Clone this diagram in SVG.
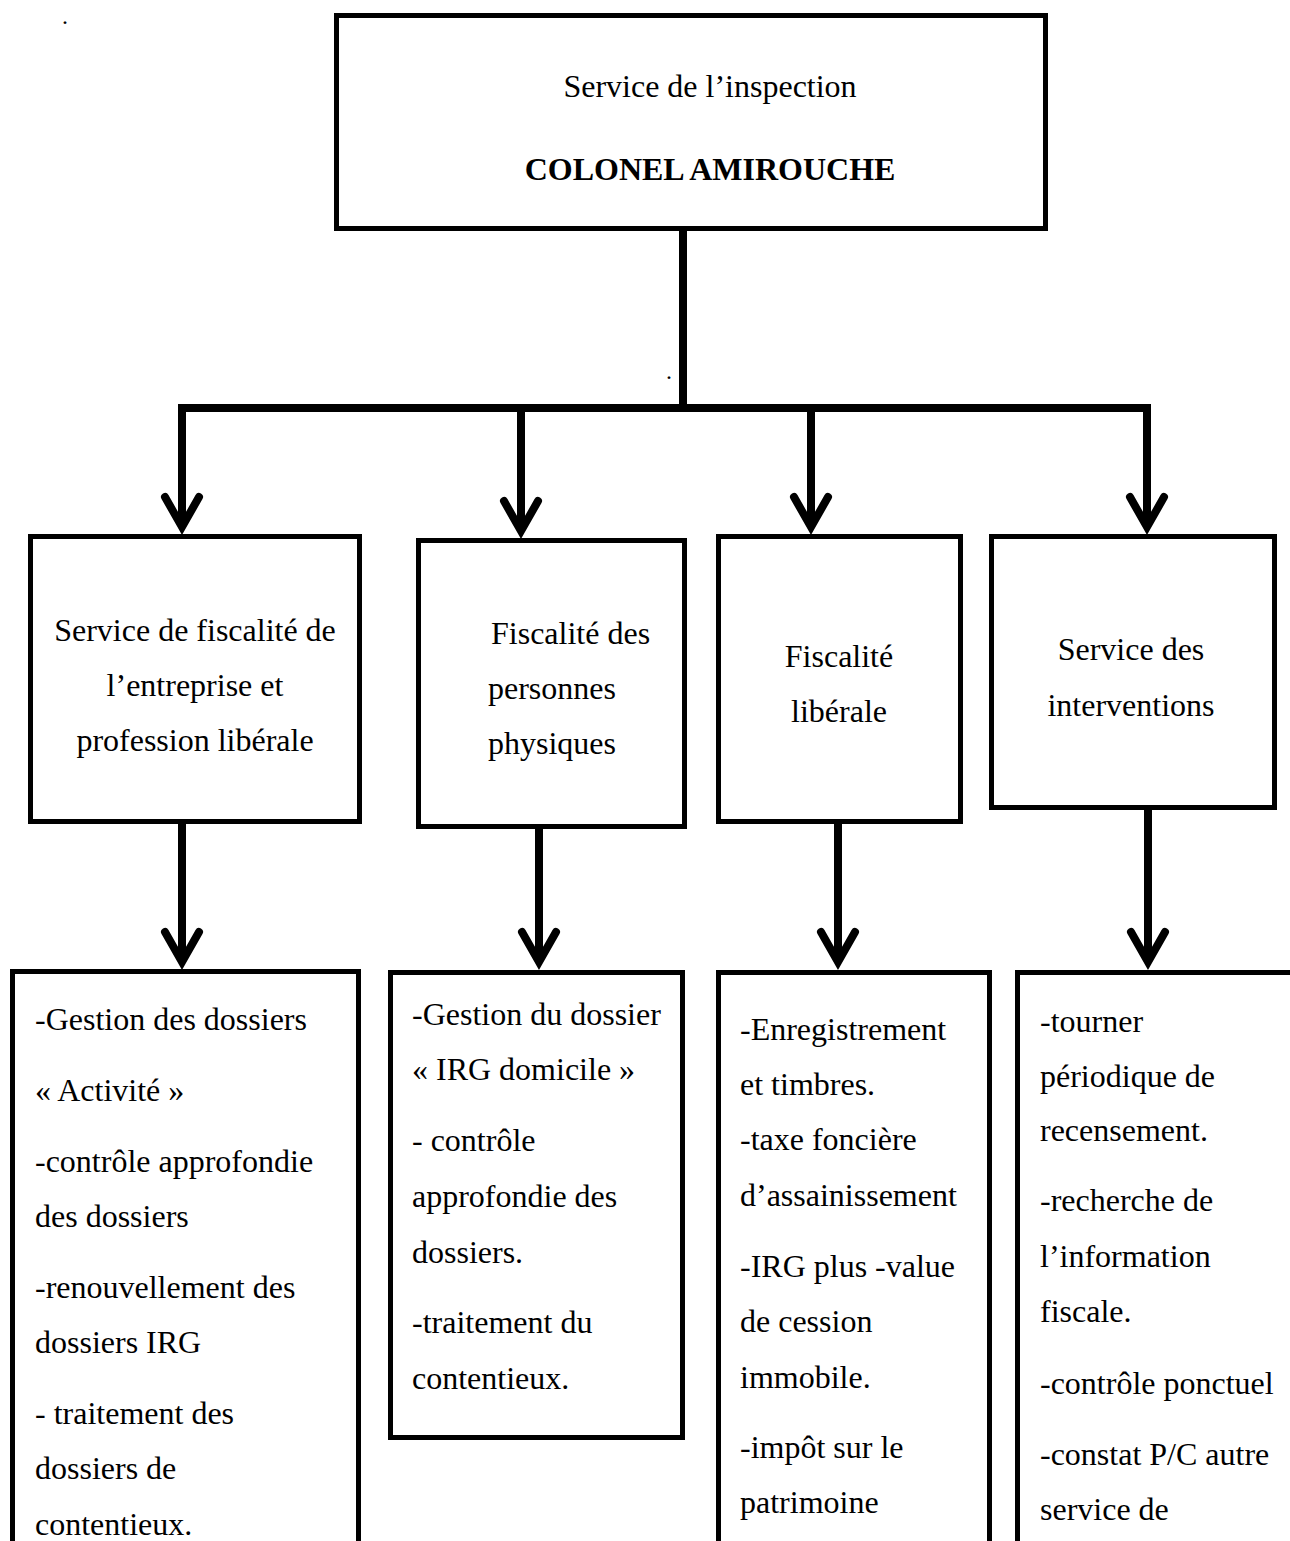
<svg xmlns="http://www.w3.org/2000/svg" width="1290" height="1541" viewBox="0 0 1290 1541">
<defs>
<style>
.box{fill:#fff;stroke:#000;stroke-width:5}
.con{fill:none;stroke:#000;stroke-width:8}
.arr{fill:none;stroke:#000;stroke-width:8;marker-end:url(#chev)}
text{font-family:"Liberation Serif","Times New Roman",serif;font-size:32px;fill:#000}
.c{text-anchor:middle}
.b{font-weight:bold}
.dot{font-size:24px}
</style>
<marker id="chev" viewBox="-36 -22 48 44" refX="0" refY="0" markerWidth="48" markerHeight="44" markerUnits="userSpaceOnUse" orient="auto">
<path d="M-30 -17 L0 0 L-30 17" fill="none" stroke="#000" stroke-width="8" stroke-linecap="round" stroke-linejoin="miter" stroke-miterlimit="10"/>
</marker>
</defs>
<rect width="1290" height="1541" fill="#fff"/>
<text class="dot" x="62" y="24">.</text>
<text class="dot" x="666" y="379">.</text>

<g id="connectors">
<path class="con" d="M683 231 V408"/>
<path class="con" d="M178 408 H1151"/>
<path class="arr" d="M182 404 V527"/>
<path class="arr" d="M521 404 V531"/>
<path class="arr" d="M811 404 V527"/>
<path class="arr" d="M1147 404 V527"/>
<path class="arr" d="M182 824 V962"/>
<path class="arr" d="M539 829 V962"/>
<path class="arr" d="M838 824 V962"/>
<path class="arr" d="M1148 810 V962"/>
</g>

<g id="top">
<rect class="box" x="336.5" y="15.5" width="709" height="213"/>
<text class="c" x="710" y="97">Service de l’inspection</text>
<text class="c b" x="710" y="180">COLONEL AMIROUCHE</text>
</g>

<g id="m1">
<rect class="box" x="30.5" y="536.5" width="329" height="285"/>
<text class="c" x="195" y="641">Service de fiscalité de</text>
<text class="c" x="195" y="696">l’entreprise et</text>
<text class="c" x="195" y="751">profession libérale</text>
</g>

<g id="m2">
<rect class="box" x="418.5" y="540.5" width="266" height="286"/>
<text x="491" y="644">Fiscalité des</text>
<text x="488" y="699">personnes</text>
<text x="488" y="754">physiques</text>
</g>

<g id="m3">
<rect class="box" x="718.5" y="536.5" width="242" height="285"/>
<text class="c" x="839" y="667">Fiscalité</text>
<text class="c" x="839" y="722">libérale</text>
</g>

<g id="m4">
<rect class="box" x="991.5" y="536.5" width="283" height="271"/>
<text class="c" x="1131" y="660">Service des</text>
<text class="c" x="1131" y="716">interventions</text>
</g>

<g id="b1">
<rect class="box" x="12.5" y="971.5" width="346" height="620"/>
<text x="35" y="1030">-Gestion des dossiers</text>
<text x="35" y="1101">« Activité »</text>
<text x="35" y="1172">-contrôle approfondie</text>
<text x="35" y="1227">des dossiers</text>
<text x="35" y="1298">-renouvellement des</text>
<text x="35" y="1353">dossiers IRG</text>
<text x="35" y="1424">- traitement des</text>
<text x="35" y="1479">dossiers de</text>
<text x="35" y="1535">contentieux.</text>
</g>

<g id="b2">
<rect class="box" x="390.5" y="972.5" width="292" height="465"/>
<text x="412" y="1025">-Gestion du dossier</text>
<text x="412" y="1080">« IRG domicile »</text>
<text x="412" y="1151">- contrôle</text>
<text x="412" y="1207">approfondie des</text>
<text x="412" y="1263">dossiers.</text>
<text x="412" y="1333">-traitement du</text>
<text x="412" y="1389">contentieux.</text>
</g>

<g id="b3">
<rect class="box" x="718.5" y="972.5" width="271" height="620"/>
<text x="740" y="1040">-Enregistrement</text>
<text x="740" y="1095">et timbres.</text>
<text x="740" y="1150">-taxe foncière</text>
<text x="740" y="1206">d’assainissement</text>
<text x="740" y="1277">-IRG plus -value</text>
<text x="740" y="1332">de cession</text>
<text x="740" y="1388">immobile.</text>
<text x="740" y="1458">-impôt sur le</text>
<text x="740" y="1513">patrimoine</text>
</g>

<g id="b4">
<rect class="box" x="1017.5" y="972.5" width="400" height="620"/>
<text x="1040" y="1032">-tourner</text>
<text x="1040" y="1087">périodique de</text>
<text x="1040" y="1141">recensement.</text>
<text x="1040" y="1211">-recherche de</text>
<text x="1040" y="1267">l’information</text>
<text x="1040" y="1322">fiscale.</text>
<text x="1040" y="1394">-contrôle ponctuel</text>
<text x="1040" y="1465">-constat P/C autre</text>
<text x="1040" y="1520">service de</text>
</g>
</svg>
